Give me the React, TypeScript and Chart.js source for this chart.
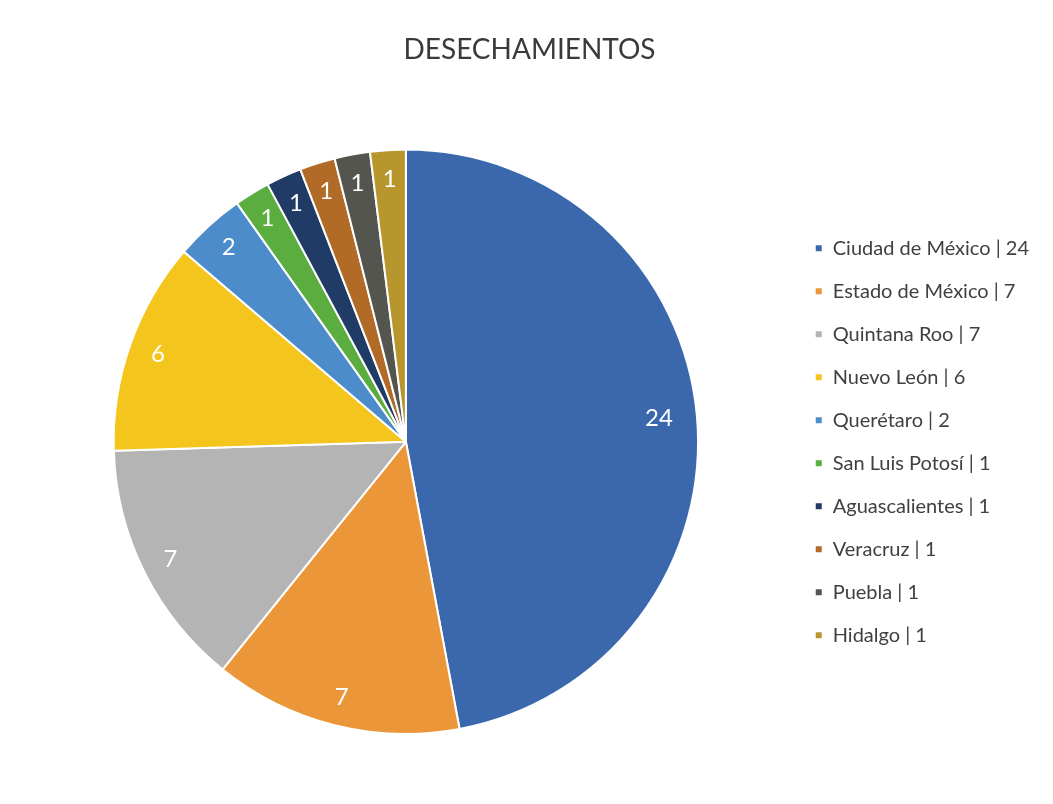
import React, { useEffect, useRef } from "react";
import { Chart, registerables } from "chart.js";

Chart.register(...registerables);

const categories = [
  "Ciudad de México",
  "Estado de México",
  "Quintana Roo",
  "Nuevo León",
  "Querétaro",
  "San Luis Potosí",
  "Aguascalientes",
  "Veracruz",
  "Puebla",
  "Hidalgo",
];
const values = [24, 7, 7, 6, 2, 1, 1, 1, 1, 1];
const colors = [
  "#3B68AD",
  "#EC963A",
  "#B4B4B4",
  "#F4C51C",
  "#4D8CCB",
  "#5CAD3F",
  "#1F3B66",
  "#B26A27",
  "#55554F",
  "#B8962E",
];

const labelPlugin = {
  id: "sliceLabels",
  afterDatasetsDraw(chart: any) {
    const ctx = chart.ctx;
    const meta = chart.getDatasetMeta(0);
    ctx.save();
    ctx.fillStyle = "#ffffff";
    ctx.font = "24px Lato";
    ctx.textAlign = "center";
    ctx.textBaseline = "middle";
    meta.data.forEach((arc: any, i: number) => {
      const p = arc.getProps(["x", "y", "startAngle", "endAngle", "outerRadius"], true);
      const mid = (p.startAngle + p.endAngle) / 2;
      const r = p.outerRadius * (i === 0 ? 0.87 : 0.9);
      ctx.fillText(String(values[i]), p.x + Math.cos(mid) * r, p.y + Math.sin(mid) * r);
    });
    ctx.restore();
  },
};

export default function App() {
  const ref = useRef<HTMLCanvasElement>(null);
  useEffect(() => {
    if (!ref.current) return;
    const chart = new Chart(ref.current, {
      type: "pie",
      data: {
        labels: categories.map((c, i) => `${c} | ${values[i]}`),
        datasets: [
          {
            data: values,
            backgroundColor: colors,
            borderColor: "#ffffff",
            borderWidth: 2,
          },
        ],
      },
      options: {
        animation: false,
        responsive: true,
        maintainAspectRatio: false,
        layout: { padding: { left: 12, right: 6, top: 0, bottom: 61 } },
        plugins: {
          title: {
            display: true,
            text: "DESECHAMIENTOS",
            color: "#3A3A3A",
            font: { family: "Lato", size: 28, weight: "normal" },
            padding: { top: 25, bottom: 82 },
          },
          legend: {
            position: "right",
            fullSize: false,
            labels: {
              color: "#404040",
              font: { family: "Lato", size: 20 },
              boxWidth: 8,
              boxHeight: 8,
              padding: 23,
            },
          },
          tooltip: { enabled: false },
        },
      },
      plugins: [labelPlugin],
    });
    return () => chart.destroy();
  }, []);
  return (
    <div style={{ width: 1037, height: 788, position: "relative" }}>
      <canvas ref={ref} />
    </div>
  );
}
